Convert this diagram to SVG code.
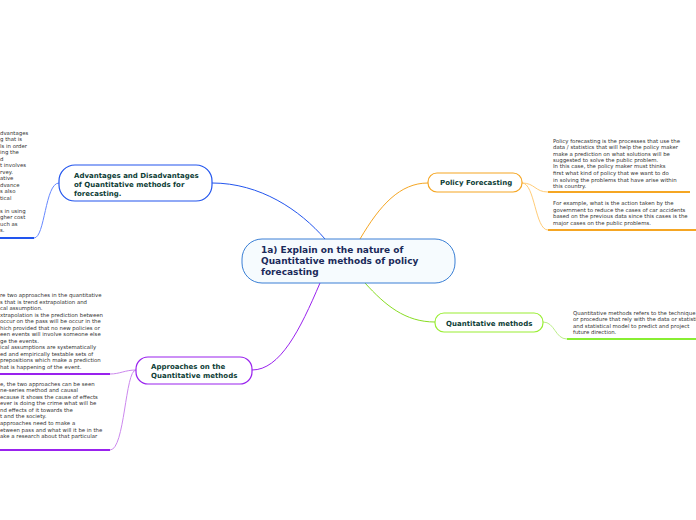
<svg xmlns="http://www.w3.org/2000/svg" width="696" height="520" viewBox="0 0 696 520">
<style>
.t{font-family:"DejaVu Sans",Verdana,sans-serif;font-size:5.4px;fill:#333}
.n{font-family:"DejaVu Sans",Verdana,sans-serif;font-size:7px;font-weight:bold;fill:#0d3d36}
.c{fill:none;stroke-width:1}
</style>
<rect width="696" height="520" fill="#fff"/>
<g id="connectors">
<path class="c" stroke="#2255ee" stroke-width="1.2" d="M325 239 C300 210 260 183 212 183"/>
<path class="c" stroke="#f5a623" stroke-width="1.2" d="M360 239 C380 205 400 183 428 183"/>
<path class="c" stroke="#88dd22" stroke-width="1.2" d="M365 283 C385 305 405 322 435 322"/>
<path class="c" stroke="#9922ee" stroke-width="1.2" d="M320 283 C300 330 280 370 252 370"/>
<path class="c" stroke="#6688ff" d="M59 183 C45 183 45 238 34 238"/>
<path class="c" stroke="#cc88ee" d="M136 370 C125 370 120 374 110 374 M136 370 C125 370 125 450 110 450"/>
<path class="c" stroke="#ffcc77" d="M522 183 C535 183 535 192 548 192 M522 183 C535 183 535 230 548 230"/>
<path class="c" stroke="#bbee88" d="M543 322 C555 322 555 339 567 339"/>
<path stroke="#2255ee" stroke-width="2" d="M0 238H34"/>
<path stroke="#9922ee" stroke-width="2" d="M0 374H110M0 450H110"/>
<path stroke="#f5a623" stroke-width="2" d="M548 192H690M548 230H696"/>
<path stroke="#88ee33" stroke-width="2" d="M567 339H696"/>
</g>
<g id="central">
<rect x="242" y="239" width="213" height="44" rx="20" fill="#f6fbfe" stroke="#3a7fd5" stroke-width="1"/>
<text font-family="DejaVu Sans,Verdana,sans-serif" font-size="9px" font-weight="bold" fill="#1a2a5a"><tspan x="261" y="253">1a) Explain on the nature of</tspan><tspan x="261" y="264">Quantitative methods of policy</tspan><tspan x="261" y="275">forecasting</tspan></text>
</g>
<g id="advantages">
<rect x="59" y="165" width="153" height="36" rx="16" fill="#fff" stroke="#2255ee" stroke-width="1.2"/>
<text class="n"><tspan x="74" y="178">Advantages and Disadvantages</tspan><tspan x="74" y="187">of Quantitative methods for</tspan><tspan x="74" y="196">forecasting.</tspan></text>
<text class="t"><tspan x="0" y="135">dvantages</tspan><tspan x="0" y="141">g that is</tspan><tspan x="0" y="148">ls in order</tspan><tspan x="0" y="154">ing the</tspan><tspan x="0" y="161">d</tspan><tspan x="0" y="167">t involves</tspan><tspan x="0" y="174">rvey.</tspan><tspan x="0" y="180">ative</tspan><tspan x="0" y="187">dvance</tspan><tspan x="0" y="193">s also</tspan><tspan x="0" y="200">tical</tspan><tspan x="0" y="213">s in using</tspan><tspan x="0" y="219">gher cost</tspan><tspan x="0" y="226">uch as</tspan><tspan x="0" y="232">s.</tspan></text>
</g>
<g id="approaches">
<rect x="136" y="357" width="116" height="27" rx="12" fill="#fff" stroke="#9922ee" stroke-width="1.2"/>
<text class="n"><tspan x="151" y="369">Approaches on the</tspan><tspan x="151" y="378">Quantitative methods</tspan></text>
<text class="t"><tspan x="0" y="297">re two approaches in the quantitative</tspan><tspan x="0" y="304">s that is trend extrapolation and</tspan><tspan x="0" y="310">cal assumption.</tspan><tspan x="0" y="317">xtrapolation is the prediction between</tspan><tspan x="0" y="323">occur on the pass will be occur in the</tspan><tspan x="0" y="330">hich provided that no new policies or</tspan><tspan x="0" y="336">een events will involve someone else</tspan><tspan x="0" y="343">ge the events.</tspan><tspan x="0" y="349">ical assumptions are systematically</tspan><tspan x="0" y="356">ed and empirically testable sets of</tspan><tspan x="0" y="362">prepositions which make a prediction</tspan><tspan x="0" y="369">hat is happening of the event.</tspan></text>
<text class="t"><tspan x="0" y="386">e, the two approaches can be seen</tspan><tspan x="0" y="392">ne-series method and causal</tspan><tspan x="0" y="399">ecause it shows the cause of effects</tspan><tspan x="0" y="405">ever is doing the crime what will be</tspan><tspan x="0" y="412">nd effects of it towards the</tspan><tspan x="0" y="418">t and the society.</tspan><tspan x="0" y="425">approaches need to make a</tspan><tspan x="0" y="432">etween pass and what will it be in the</tspan><tspan x="0" y="438">ake a research about that particular</tspan></text>
</g>
<g id="policy">
<rect x="428" y="173" width="94" height="19" rx="9" fill="#fff" stroke="#f5a623" stroke-width="1.2"/>
<text class="n" x="440" y="185">Policy Forecasting</text>
<text class="t"><tspan x="553" y="143">Policy forecasting is the processes that use the</tspan><tspan x="553" y="149">data / statistics that will help the policy maker</tspan><tspan x="553" y="156">make a prediction on what solutions will be</tspan><tspan x="553" y="162">suggested to solve the public problem.</tspan><tspan x="553" y="168">In this case, the policy maker must thinks</tspan><tspan x="553" y="175">first what kind of policy that we want to do</tspan><tspan x="553" y="182">in solving the problems that have arise within</tspan><tspan x="553" y="188">this country.</tspan></text>
<text class="t"><tspan x="553" y="205">For example, what is the action taken by the</tspan><tspan x="553" y="212">government to reduce the cases of car accidents</tspan><tspan x="553" y="218">based on the previous data since this cases is the</tspan><tspan x="553" y="225">major cases on the public problems.</tspan></text>
</g>
<g id="quantitative">
<rect x="435" y="313" width="108" height="19" rx="9" fill="#fff" stroke="#99ee33" stroke-width="1.2"/>
<text class="n" x="446" y="326">Quantitative methods</text>
<text class="t"><tspan x="573" y="315">Quantitative methods refers to the technique</tspan><tspan x="573" y="321">or procedure that rely with the data or statistic</tspan><tspan x="573" y="328">and statistical model to predict and project</tspan><tspan x="573" y="334">future direction.</tspan></text>
</g>
</svg>
